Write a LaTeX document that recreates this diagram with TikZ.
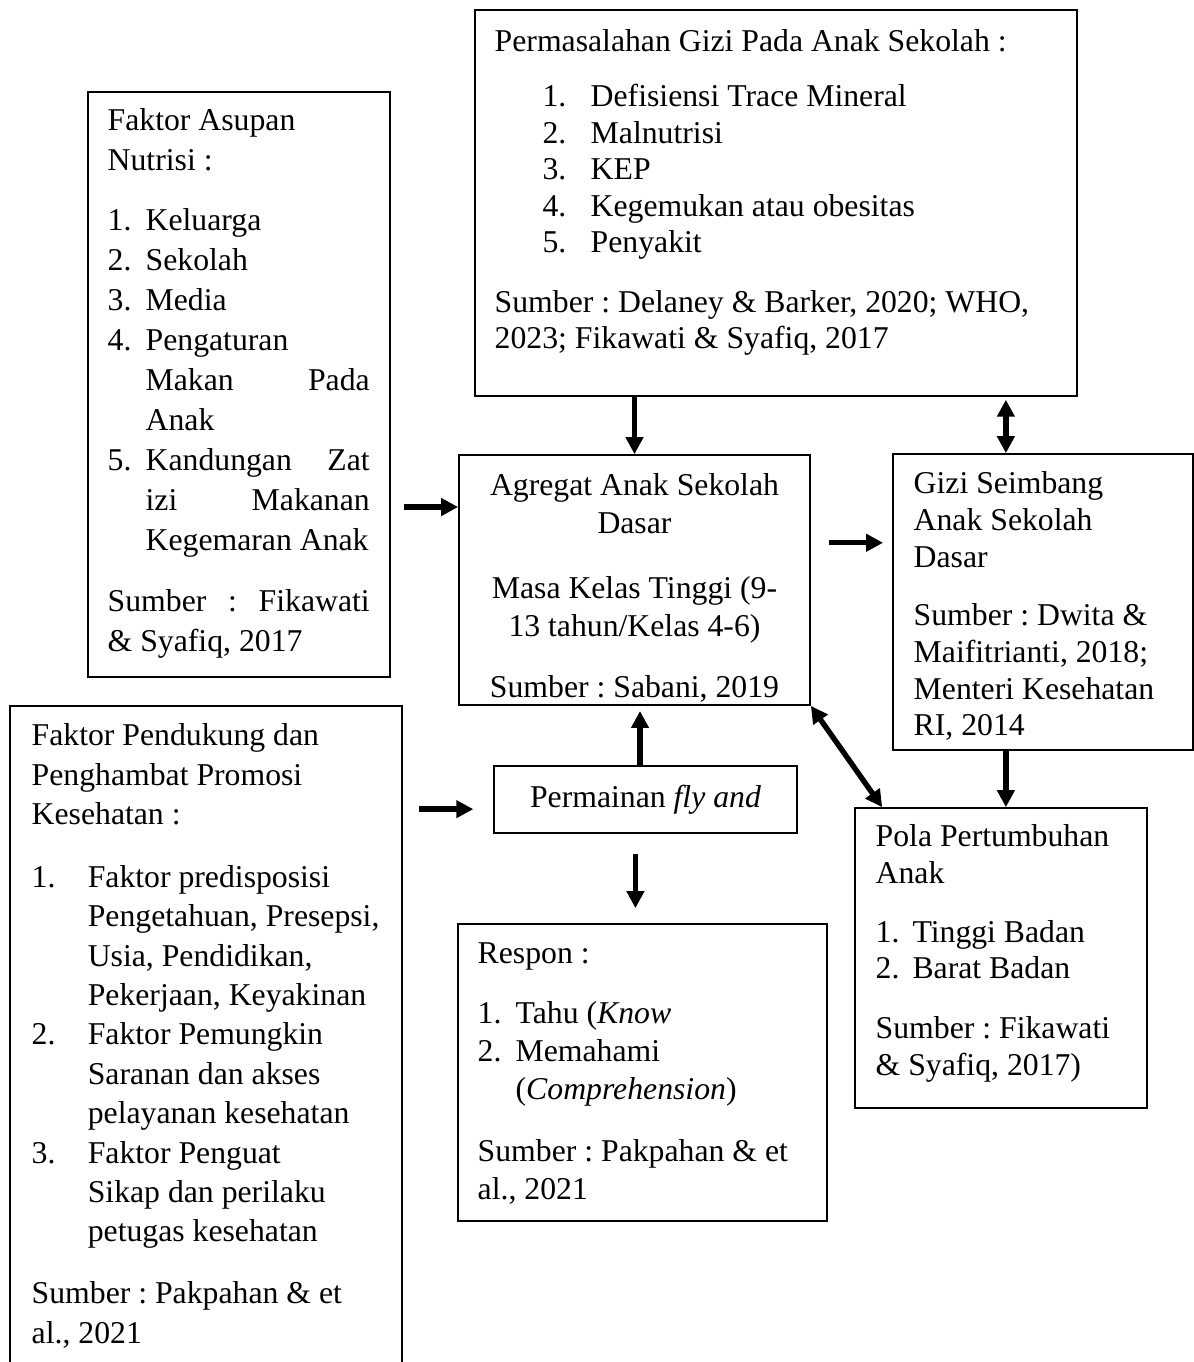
\documentclass[tikz,border=0pt]{standalone}
\usepackage{fontspec}
\setmainfont{Liberation Serif}
\usetikzlibrary{arrows.meta,calc,fit,positioning}
\tikzset{
  kotak/.style={draw, line width=0.6pt, inner sep=0pt},
  isi/.style={anchor=north west, inner sep=0pt, align=flush left, font=\fontsize{11.2}{#1}\selectfont\frenchspacing},
  panah/.style={-{Triangle[length=6pt,width=6pt]}, line width=1.9pt},
  panahdua/.style={{Triangle[length=6pt,width=6pt]}-{Triangle[length=6pt,width=6pt]}, line width=1.9pt},
}
\begin{document}
\begin{tikzpicture}[x=0.353pt, y=-0.353pt]
            \useasboundingbox (0,0) rectangle (1194,1362);
            % kotak
            \node[kotak, fit={(88,92) (390,677)}] (asupan) {};
            \node[kotak, fit={(475,10) (1077,396)}] (masalah) {};
            \node[kotak, fit={(459,455) (810,705)}] (agregat) {};
            \node[kotak, fit={(893,454) (1193,750)}] (gizi) {};
            \node[kotak, fit={(855,808) (1147,1108)}] (pola) {};
            \node[kotak, fit={(10,706) (402,1380)}] (pendukung) {};
            \node[kotak, fit={(494,766) (797,833)}] (permainan) {};
            \node[kotak, fit={(458,924) (827,1221)}] (respon) {};
            % isi kotak
            \node[isi=14.1pt, text width=92.5pt] (asupanTeks) at ([shift={(20,17)}]asupan.north west)
                {Faktor Asupan\\
                 Nutrisi :\\[7pt]
                 \makebox[13.4pt][l]{1.}Keluarga\\
                 \makebox[13.4pt][l]{2.}Sekolah\\
                 \makebox[13.4pt][l]{3.}Media\\
                 \makebox[13.4pt][l]{4.}Pengaturan\\
                 \hspace*{13.4pt}Makan\hfill Pada\\
                 \hspace*{13.4pt}Anak\\
                 \makebox[13.4pt][l]{5.}Kandungan\hfill Zat\\
                 \hspace*{13.4pt}izi\hfill Makanan\\
                 \hspace*{13.4pt}\mbox{Kegemaran Anak}\\[7.5pt]
                 Sumber\hfill:\hfill Fikawati\\
                 \& Syafiq, 2017};
            \node[isi=12.9pt, text width=215pt] (masalahTeks) at ([shift={(20,20)}]masalah.north west)
                {Permasalahan Gizi Pada Anak Sekolah :\\[6.5pt]
                 \hspace*{16.9pt}\makebox[17pt][l]{1.}Defisiensi Trace Mineral\\
                 \hspace*{16.9pt}\makebox[17pt][l]{2.}Malnutrisi\\
                 \hspace*{16.9pt}\makebox[17pt][l]{3.}KEP\\
                 \hspace*{16.9pt}\makebox[17pt][l]{4.}Kegemukan atau obesitas\\
                 \hspace*{16.9pt}\makebox[17pt][l]{5.}Penyakit\\[8pt]
                 \mbox{Sumber : Delaney \& Barker, 2020; WHO,}\\
                 2023; Fikawati \& Syafiq, 2017};
            \node[isi=13.4pt, anchor=north, align=flush center, text width=120pt] (agregatTeks) at ([shift={(0,19)}]agregat.north)
                {Agregat Anak Sekolah\\
                 Dasar\\[9.5pt]
                 Masa Kelas Tinggi (9-\\
                 13 tahun/Kelas 4-6)\\[8pt]
                 Sumber : Sabani, 2019\hspace*{6pt}};
            \node[isi=13pt, text width=100pt] (giziTeks) at ([shift={(21,18)}]gizi.north west)
                {Gizi Seimbang\\
                 Anak Sekolah\\
                 Dasar\\[7.5pt]
                 Sumber : Dwita \&\\
                 Maifitrianti, 2018;\\
                 Menteri Kesehatan\\
                 RI, 2014};
            \node[isi=12.9pt, text width=98pt] (polaTeks) at ([shift={(21,17)}]pola.north west)
                {Pola Pertumbuhan\\
                 Anak\\[7.9pt]
                 \makebox[13pt][l]{1.}Tinggi Badan\\
                 \makebox[13pt][l]{2.}Barat Badan\\[8.3pt]
                 Sumber : Fikawati\\
                 \& Syafiq, 2017)};
            \node[isi=13.9pt, text width=132pt] (pendukungTeks) at ([shift={(22,18)}]pendukung.north west)
                {Faktor Pendukung dan\\
                 Penghambat Promosi\\
                 Kesehatan :\\[8.3pt]
                 \makebox[19.8pt][l]{1.}Faktor predisposisi\\
                 \hspace*{19.8pt}\mbox{Pengetahuan, Presepsi,}\\
                 \hspace*{19.8pt}Usia, Pendidikan,\\
                 \hspace*{19.8pt}\mbox{Pekerjaan, Keyakinan}\\
                 \makebox[19.8pt][l]{2.}Faktor Pemungkin\\
                 \hspace*{19.8pt}Saranan dan akses\\
                 \hspace*{19.8pt}\mbox{pelayanan kesehatan}\\
                 \makebox[19.8pt][l]{3.}Faktor Penguat\\
                 \hspace*{19.8pt}Sikap dan perilaku\\
                 \hspace*{19.8pt}petugas kesehatan\\[8pt]
                 Sumber : Pakpahan \& et\\
                 al., 2021};
            \node[font=\fontsize{11.2}{13}\selectfont, inner sep=0pt] (permainanTeks) at (permainan.center)
                {Permainan \textit{fly and}};
            \node[isi=13.4pt, text width=125pt] (responTeks) at ([shift={(20,19)}]respon.north west)
                {Respon :\\[7.8pt]
                 \makebox[13.4pt][l]{1.}Tahu (\textit{Know}\\
                 \makebox[13.4pt][l]{2.}Memahami\\
                 \hspace*{13.4pt}(\textit{Comprehension})\\[8.5pt]
                 \mbox{Sumber : Pakpahan \& et}\\
                 al., 2021};
            % titik bantu panah
            \coordinate (kiriA) at ($(agregat.north west)!0.21!(agregat.south west)$);
            \coordinate (kananA) at ($(agregat.north east)!0.352!(agregat.south east)$);
            \coordinate (atasG) at ($(gizi.north west)!0.377!(gizi.north east)$);
            \coordinate (kiriP) at ([yshift=-3.4pt]permainan.west);
            \coordinate (tengahPA) at ($(permainan.north)!0.5!(agregat.south)$);
            \coordinate (bawahP) at ($(permainan.south west)!0.467!(permainan.south east)$);
            % panah
            \draw[panah, shorten <=4.6pt] (kiriA -| asupan.east) -- (kiriA);
            \draw[panah] (masalah.south -| agregat.north) -- (agregat.north);
            \draw[panahdua, shorten <=1pt] (atasG |- masalah.south) -- (atasG);
            \draw[panah, shorten <=6.4pt, shorten >=3.2pt] (kananA) -- (kananA -| gizi.west);
            \draw[panah] (atasG |- gizi.south) -- (atasG |- pola.north);
            \draw[panahdua] (agregat.south east) -- ([xshift=9.9pt]pola.north west);
            \draw[panah, shorten <=5.6pt, shorten >=7pt] (kiriP -| pendukung.east) -- (kiriP);
            \draw[panah, shorten >=1.8pt] (tengahPA |- permainan.north) -- (tengahPA |- agregat.south);
            \draw[panah, shorten <=7pt, shorten >=5.3pt] (bawahP) -- (bawahP |- respon.north);
        \end{tikzpicture}
\end{document}
